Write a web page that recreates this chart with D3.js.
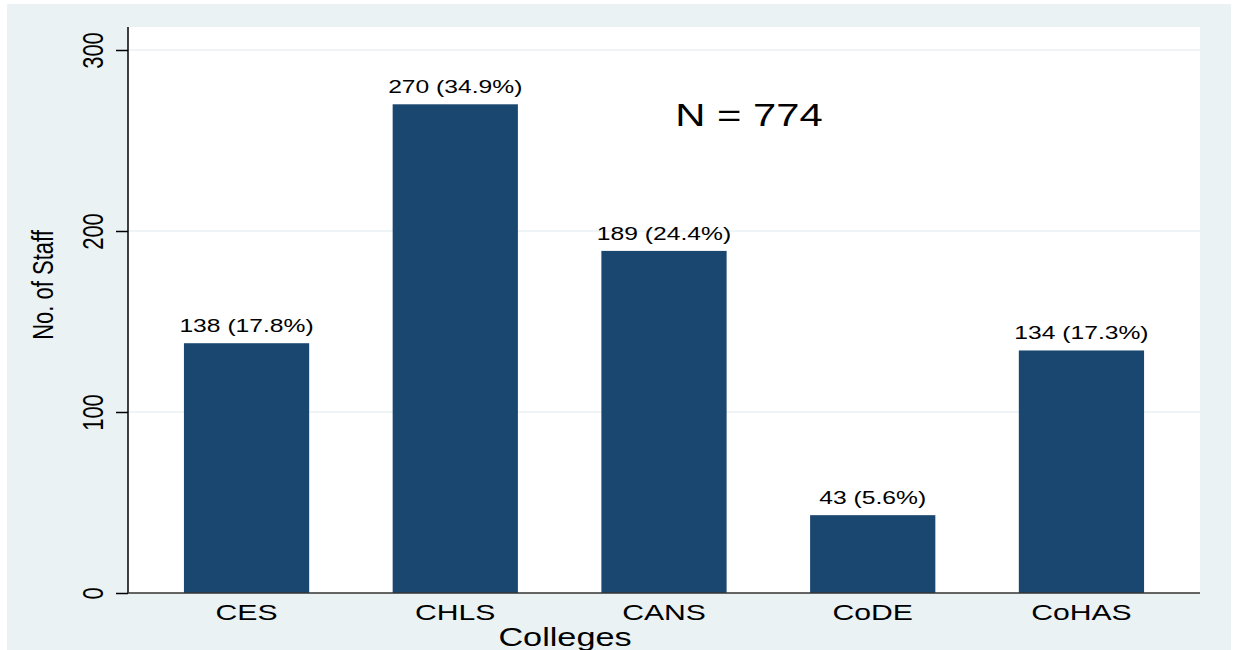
<!DOCTYPE html>
<html>
<head>
<meta charset="utf-8">
<script src="https://cdn.jsdelivr.net/npm/d3@7/dist/d3.min.js"></script>
<style>
html,body{margin:0;padding:0;background:#fff;}
svg{display:block;}
text{font-family:"Liberation Sans",Arial,Helvetica,sans-serif;fill:#000;}
</style>
</head>
<body>
<svg id="chart" width="1233" height="650"></svg>
<script>
const categories = ["CES", "CHLS", "CANS", "CoDE", "CoHAS"];
const values = [138, 270, 189, 43, 134];
const percents = ["17.8%", "34.9%", "24.4%", "5.6%", "17.3%"];
const yTicks = [0, 100, 200, 300];
const totalLabel = "N = 774";
const xTitle = "Colleges";
const yTitle = "No. of Staff";

const SX = 1.37; // horizontal text stretch
const svg = d3.select("#chart");

// outer background
svg.append("rect").attr("x", 7).attr("y", 4).attr("width", 1224).attr("height", 646).attr("fill", "#eaf2f3");

const plot = {left: 128, right: 1200, top: 27, bottom: 593};
svg.append("rect").attr("x", plot.left).attr("y", plot.top)
  .attr("width", plot.right - plot.left).attr("height", plot.bottom - plot.top).attr("fill", "#fff");

const x = d3.scaleBand().domain(categories).range([plot.left, plot.right])
  .paddingInner(0.4).paddingOuter(0.268);
const y = d3.scaleLinear().domain([0, 300]).range([plot.bottom, 50]);

// gridlines
svg.append("g").selectAll("line").data(yTicks.filter(d => d > 0)).join("line")
  .attr("x1", plot.left).attr("x2", plot.right)
  .attr("y1", d => y(d)).attr("y2", d => y(d))
  .attr("stroke", "#eaf2f3").attr("stroke-width", 1.5);

// bars
svg.append("g").selectAll("rect").data(values).join("rect")
  .attr("x", (d, i) => x(categories[i]))
  .attr("y", d => y(d))
  .attr("width", x.bandwidth())
  .attr("height", d => y(0) - y(d))
  .attr("fill", "#1a476f");

// bar labels
svg.append("g").selectAll("text").data(values).join("text")
  .attr("transform", (d, i) => `translate(${x(categories[i]) + x.bandwidth() / 2},${y(d) - 11}) scale(${SX},1)`)
  .attr("text-anchor", "middle").attr("font-size", 18)
  .text((d, i) => `${d} (${percents[i]})`);

// y axis
const yAxis = svg.append("g").attr("transform", `translate(${plot.left},0)`)
  .call(d3.axisLeft(y).tickValues(yTicks).tickSize(12).tickFormat(d3.format("d")));
yAxis.select(".domain").attr("d", `M0,${plot.top}V${plot.bottom}`).attr("stroke", "#000").attr("stroke-width", 1.5);
yAxis.selectAll(".tick line").attr("stroke", "#000").attr("stroke-width", 1.5);
yAxis.selectAll(".tick text")
  .attr("x", null).attr("dy", null).attr("text-anchor", "middle")
  .attr("font-size", 22).attr("font-family", "Liberation Sans, Arial, sans-serif").attr("fill", "#000")
  .attr("transform", `translate(-25,0) scale(${SX},1) rotate(-90)`);

// x axis
const xAxis = svg.append("g").attr("transform", `translate(0,${plot.bottom})`)
  .call(d3.axisBottom(x).tickSize(0));
xAxis.select(".domain").attr("d", `M${plot.left},0H${plot.right}`).attr("stroke", "#333").attr("stroke-width", 1.5);
xAxis.selectAll(".tick text")
  .attr("y", null).attr("dy", null)
  .attr("font-size", 22).attr("font-family", "Liberation Sans, Arial, sans-serif").attr("fill", "#000")
  .attr("transform", `translate(0,27) scale(${SX},1)`);

// titles
svg.append("text").attr("transform", `translate(565,646) scale(${SX},1)`)
  .attr("text-anchor", "middle").attr("font-size", 25).text(xTitle);
svg.append("text").attr("transform", `translate(53,285) scale(${SX},1) rotate(-90)`)
  .attr("text-anchor", "middle").attr("font-size", 22).text(yTitle);

// N annotation
svg.append("text").attr("transform", `translate(749,126) scale(${SX},1)`)
  .attr("text-anchor", "middle").attr("font-size", 30.5).text(totalLabel);
</script>
</body>
</html>
